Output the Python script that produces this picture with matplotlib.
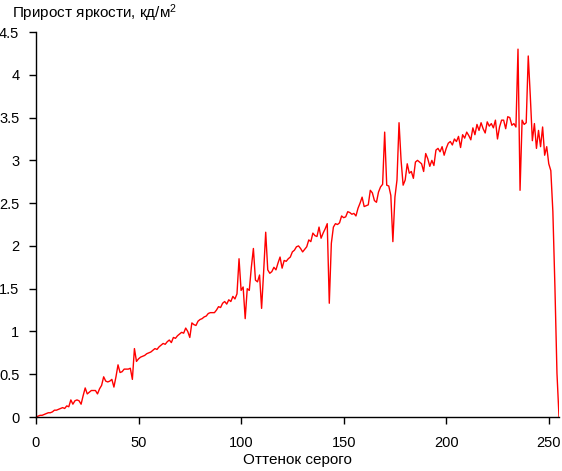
import matplotlib
matplotlib.use('Agg')
import matplotlib.pyplot as plt
from matplotlib.ticker import FuncFormatter
import numpy as np

plt.rcParams['font.family'] = ['Liberation Sans', 'DejaVu Sans']
plt.rcParams['mathtext.fontset'] = 'custom'
plt.rcParams['mathtext.rm'] = 'Liberation Sans'
plt.rcParams['mathtext.it'] = 'Liberation Sans'

# прирост яркости для каждого оттенка серого 0..255
gain = [
    0.00, 0.01, 0.02, 0.02, 0.03, 0.04, 0.05, 0.05, 0.06, 0.08,
    0.08, 0.09, 0.10, 0.11, 0.10, 0.13, 0.12, 0.20, 0.15, 0.19,
    0.20, 0.19, 0.15, 0.25, 0.34, 0.27, 0.29, 0.31, 0.31, 0.31,
    0.27, 0.33, 0.37, 0.47, 0.42, 0.41, 0.42, 0.44, 0.35, 0.47,
    0.61, 0.52, 0.53, 0.56, 0.56, 0.56, 0.57, 0.44, 0.80, 0.65,
    0.68, 0.70, 0.71, 0.72, 0.74, 0.75, 0.76, 0.78, 0.80, 0.79,
    0.82, 0.84, 0.86, 0.85, 0.88, 0.90, 0.87, 0.93, 0.92, 0.95,
    0.97, 0.99, 0.98, 1.04, 1.00, 0.93, 1.10, 1.08, 1.07, 1.12,
    1.14, 1.15, 1.17, 1.18, 1.21, 1.22, 1.22, 1.22, 1.25, 1.29,
    1.28, 1.33, 1.35, 1.32, 1.37, 1.35, 1.41, 1.38, 1.44, 1.85,
    1.48, 1.52, 1.15, 1.50, 1.48, 1.75, 1.97, 1.60, 1.58, 1.66,
    1.27, 1.70, 2.16, 1.72, 1.68, 1.70, 1.75, 1.72, 1.80, 1.87,
    1.74, 1.83, 1.82, 1.85, 1.87, 1.93, 1.95, 1.99, 2.00, 1.97,
    1.93, 1.96, 1.99, 2.07, 2.05, 2.15, 2.12, 2.11, 2.22, 2.09,
    2.15, 2.20, 2.26, 1.33, 2.03, 2.22, 2.26, 2.25, 2.27, 2.35,
    2.33, 2.34, 2.40, 2.39, 2.37, 2.38, 2.35, 2.44, 2.50, 2.57,
    2.46, 2.47, 2.48, 2.65, 2.62, 2.53, 2.51, 2.63, 2.69, 2.72,
    3.33, 2.71, 2.70, 2.59, 2.05, 2.57, 2.77, 3.44, 3.00, 2.71,
    2.77, 2.96, 2.85, 2.87, 2.79, 2.98, 3.00, 2.98, 2.96, 2.87,
    3.08, 3.02, 2.93, 3.00, 2.94, 3.12, 3.14, 3.10, 3.16, 3.06,
    3.14, 3.20, 3.22, 3.18, 3.25, 3.22, 3.28, 3.15, 3.30, 3.26,
    3.33, 3.29, 3.24, 3.38, 3.30, 3.42, 3.35, 3.44, 3.37, 3.32,
    3.45, 3.40, 3.43, 3.38, 3.47, 3.25, 3.39, 3.47, 3.47, 3.37,
    3.51, 3.50, 3.41, 3.43, 3.39, 4.30, 2.65, 3.47, 3.42, 3.44,
    4.22, 3.75, 3.23, 3.43, 3.14, 3.35, 3.16, 3.39, 3.06, 3.16,
    2.96, 2.88, 2.40, 1.52, 0.51, 0.00,
]
shade = np.arange(len(gain))

x_ticks = [0, 50, 100, 150, 200, 250]
y_ticks = [0, 0.5, 1, 1.5, 2, 2.5, 3, 3.5, 4, 4.5]

fig = plt.figure(figsize=(5.62, 4.71), dpi=100)
ax = fig.add_axes([0.064, 0.1146, 0.9307, 0.8174])
ax.plot(shade, gain, color='red', lw=1.0)

ax.set_xlim(0, 255)
ax.set_ylim(0, 4.5)
ax.set_xticks(x_ticks)
ax.set_yticks(y_ticks)
ax.yaxis.set_major_formatter(FuncFormatter(lambda v, p: '%g' % v))
ax.tick_params(direction='out', length=5, width=1, labelsize=10.5)
ax.tick_params(axis='x', pad=8.5)
ax.tick_params(axis='y', pad=7)

for s in ['top', 'right']:
    ax.spines[s].set_visible(False)
for s in ['left', 'bottom']:
    ax.spines[s].set_linewidth(1.0)

ax.set_xlabel('Оттенок серого', fontsize=11, labelpad=2)
fig.text(0.021, 0.995, 'Прирост яркости, кд/м$^2$', fontsize=11, va='top', ha='left')

fig.savefig('out.png', dpi=100)
